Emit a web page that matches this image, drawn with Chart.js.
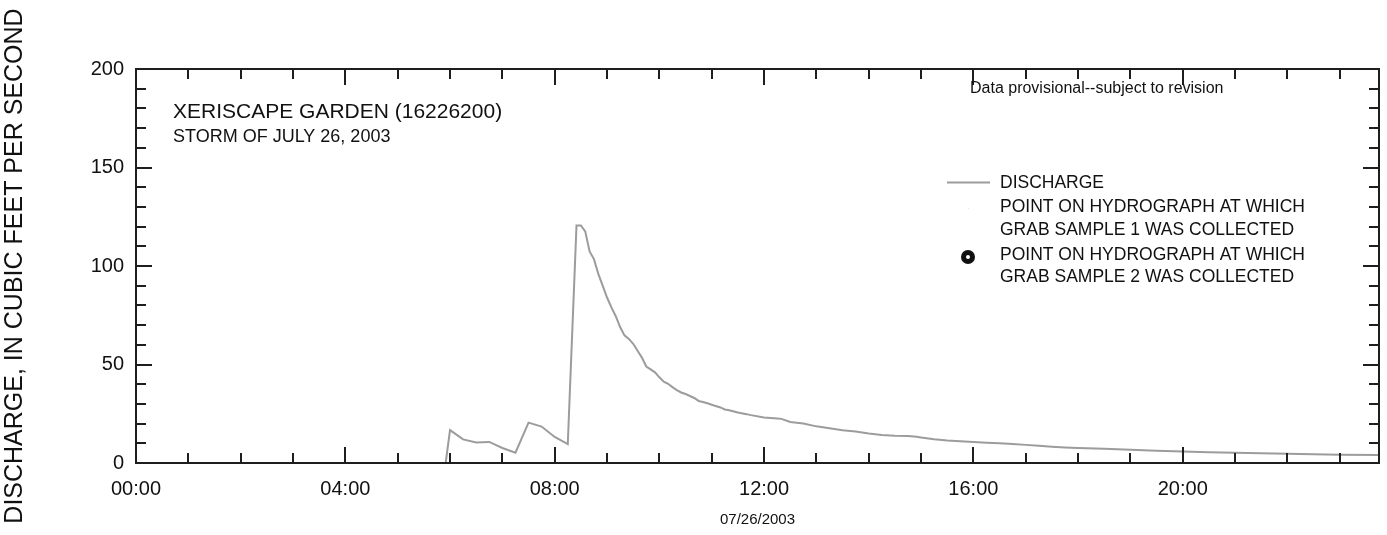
<!DOCTYPE html>
<html>
<head>
<meta charset="utf-8">
<script src="https://cdn.jsdelivr.net/npm/chart.js@4.4.1/dist/chart.umd.min.js"></script>
<style>
  html, body { margin: 0; padding: 0; background: #ffffff; }
  canvas { display: block; }
</style>
</head>
<body>
<canvas id="hydro" width="1387" height="535"></canvas>
<script>
// Discharge record, storm of July 26, 2003 (time of day, cubic feet per second)
const times = [
  "00:00", "05:55", "06:00", "06:15", "06:30", "06:45", "07:00", "07:15", "07:30", "07:45",
  "08:00", "08:15", "08:25", "08:30", "08:35", "08:40", "08:45", "08:50", "08:55", "09:00",
  "09:05", "09:10", "09:15", "09:20", "09:25", "09:30", "09:35", "09:40", "09:45", "09:50",
  "09:55", "10:00", "10:05", "10:10", "10:15", "10:20", "10:25", "10:30", "10:35", "10:40",
  "10:45", "10:50", "10:55", "11:00", "11:10", "11:15", "11:20", "11:30", "11:40", "11:45",
  "12:00", "12:15", "12:20", "12:30", "12:45", "13:00", "13:15", "13:30", "13:45", "14:00",
  "14:15", "14:30", "14:45", "14:55", "15:00", "15:15", "15:30", "15:45", "16:00", "16:15",
  "16:30", "16:45", "17:00", "17:15", "17:30", "17:45", "18:00", "18:30", "19:00", "19:30",
  "20:00", "20:30", "21:00", "21:30", "22:00", "22:30", "23:00", "23:45"
];
const discharge = [
  0, 0, 16.7, 12.0, 10.4, 10.7, 7.6, 5.2, 20.5, 18.5,
  13.2, 9.6, 120.6, 120.6, 117.6, 107.4, 103.5, 96.0, 90.0, 84.0,
  79.0, 74.5, 69.0, 64.8, 63.0, 60.5, 57.0, 53.5, 49.0, 47.5,
  46.0, 43.5, 41.3, 40.2, 38.5, 37.0, 35.8, 35.0, 34.0, 33.0,
  31.5, 31.0, 30.3, 29.6, 28.2, 27.2, 26.8, 25.6, 24.8, 24.3,
  23.1, 22.6, 22.4, 20.8, 20.1, 18.6, 17.6, 16.6, 16.0, 15.0,
  14.2, 13.8, 13.7, 13.3, 13.0, 12.0, 11.4, 11.0, 10.6, 10.3,
  10.0, 9.7, 9.2, 8.7, 8.3, 7.9, 7.6, 7.2, 6.7, 6.2,
  5.9, 5.5, 5.2, 4.9, 4.7, 4.4, 4.2, 4.0
];

// Grab samples taken on the hydrograph
const sample1Times = ["14:55"];
const sample1Values = [13.3];
const sample2Times = [];
const sample2Values = [];

// Axis ticks (hours of day, discharge)
const xMajorTicks = [0, 4, 8, 12, 16, 20];
const xMinorTicks = [1, 2, 3, 5, 6, 7, 9, 10, 11, 13, 14, 15, 17, 18, 19, 21, 22, 23];
const yMajorTicks = [0, 50, 100, 150, 200];
const yMinorTicks = [10, 20, 30, 40, 60, 70, 80, 90, 110, 120, 130, 140, 160, 170, 180, 190];

const titleLines = ["XERISCAPE GARDEN (16226200)", "STORM OF JULY 26, 2003"];
const noteText = "Data provisional--subject to revision";
const legendItems = [
  ["DISCHARGE"],
  ["POINT ON HYDROGRAPH AT WHICH", "GRAB SAMPLE 1 WAS COLLECTED"],
  ["POINT ON HYDROGRAPH AT WHICH", "GRAB SAMPLE 2 WAS COLLECTED"]
];

const FONT = '"Liberation Sans", Arial, Helvetica, sans-serif';
const LINE_GREY = '#9c9c9c';
const AXIS_INK = '#1e1e1e';

function toHours(t) {
  const [h, m] = t.split(':').map(Number);
  return h + m / 60;
}
function pad2(n) { return String(n).padStart(2, '0'); }

const dischargePoints = times.map((t, i) => ({ x: toHours(t), y: discharge[i] }));
const sample1Points = sample1Times.map((t, i) => ({ x: toHours(t), y: sample1Values[i] }));
const sample2Points = sample2Times.map((t, i) => ({ x: toHours(t), y: sample2Values[i] }));

// Box frame with inward tick marks on all four sides
const framePlugin = {
  id: 'frame',
  afterDatasetsDraw(chart) {
    const { ctx, chartArea: a, scales } = chart;
    const xs = scales.x, ys = scales.y;
    ctx.save();
    ctx.strokeStyle = AXIS_INK;
    ctx.lineWidth = 2;
    ctx.strokeRect(a.left, a.top, a.right - a.left, a.bottom - a.top);
    ctx.beginPath();
    const tickX = (v, len) => {
      const px = Math.round(xs.getPixelForValue(v));
      ctx.moveTo(px, a.bottom); ctx.lineTo(px, a.bottom - len);
      ctx.moveTo(px, a.top); ctx.lineTo(px, a.top + len);
    };
    const tickY = (v, len) => {
      const py = Math.round(ys.getPixelForValue(v));
      ctx.moveTo(a.left, py); ctx.lineTo(a.left + len, py);
      ctx.moveTo(a.right, py); ctx.lineTo(a.right - len, py);
    };
    xMajorTicks.forEach(v => tickX(v, 16));
    xMinorTicks.forEach(v => tickX(v, 10));
    yMajorTicks.forEach(v => tickY(v, 16));
    yMinorTicks.forEach(v => tickY(v, 10));
    ctx.stroke();
    ctx.restore();
  }
};

// Station title, provisional note and legend
const annotationPlugin = {
  id: 'annotations',
  afterDraw(chart) {
    const { ctx } = chart;
    ctx.save();
    ctx.fillStyle = '#111';
    ctx.textBaseline = 'alphabetic';
    ctx.textAlign = 'left';
    ctx.font = `21px ${FONT}`;
    ctx.fillText(titleLines[0], 173, 118);
    ctx.font = `18px ${FONT}`;
    ctx.fillText(titleLines[1], 173, 142);

    ctx.font = `16px ${FONT}`;
    ctx.fillText(noteText, 970, 93);

    // legend
    ctx.font = `17.5px ${FONT}`;
    ctx.strokeStyle = LINE_GREY;
    ctx.lineWidth = 2;
    ctx.beginPath();
    ctx.moveTo(947, 182.5); ctx.lineTo(990, 182.5);
    ctx.stroke();
    ctx.fillText(legendItems[0][0], 1000, 188);

    ctx.fillStyle = '#e6e6e6';
    ctx.fillRect(968, 208, 1, 1);
    ctx.fillStyle = '#111';
    ctx.fillText(legendItems[1][0], 1000, 212);
    ctx.fillText(legendItems[1][1], 1000, 235);

    ctx.beginPath();
    ctx.arc(968, 257, 7, 0, Math.PI * 2);
    ctx.fillStyle = '#111';
    ctx.fill();
    ctx.beginPath();
    ctx.arc(968, 257, 2, 0, Math.PI * 2);
    ctx.fillStyle = '#fff';
    ctx.fill();
    ctx.fillStyle = '#111';
    ctx.fillText(legendItems[2][0], 1000, 260);
    ctx.fillText(legendItems[2][1], 1000, 282);
    ctx.restore();
  }
};

new Chart(document.getElementById('hydro'), {
  type: 'line',
  data: {
    datasets: [
      {
        label: 'DISCHARGE',
        data: dischargePoints,
        borderColor: LINE_GREY,
        borderWidth: 2,
        pointRadius: 0,
        tension: 0,
        fill: false
      },
      {
        label: 'GRAB SAMPLE 1',
        data: sample1Points,
        showLine: false,
        pointRadius: 2,
        pointBackgroundColor: '#ffffff',
        pointBorderWidth: 0
      },
      {
        label: 'GRAB SAMPLE 2',
        data: sample2Points,
        showLine: false,
        pointRadius: 7,
        pointBackgroundColor: '#111111',
        pointBorderWidth: 0
      }
    ]
  },
  options: {
    responsive: false,
    animation: false,
    events: [],
    layout: { padding: { left: 0, right: 8, top: 69, bottom: 0 } },
    plugins: { legend: { display: false }, tooltip: { enabled: false } },
    scales: {
      x: {
        type: 'linear',
        min: 0,
        max: 23.75,
        afterFit(scale) { scale.height = 72; },
        grid: { display: false },
        border: { display: false },
        ticks: {
          stepSize: 4,
          includeBounds: false,
          autoSkip: false,
          maxRotation: 0,
          padding: 6,
          color: '#111',
          font: { family: FONT, size: 20 },
          callback: v => pad2(v) + ':00'
        },
        title: {
          display: true,
          text: '07/26/2003',
          color: '#111',
          font: { family: FONT, size: 15 },
          padding: { top: 0, bottom: 6 }
        }
      },
      y: {
        type: 'linear',
        min: 0,
        max: 200,
        afterFit(scale) { scale.width = 136; },
        grid: { display: false },
        border: { display: false },
        ticks: {
          stepSize: 50,
          padding: 4,
          color: '#111',
          font: { family: FONT, size: 20 }
        },
        title: {
          display: true,
          text: 'DISCHARGE, IN CUBIC FEET PER SECOND',
          color: '#111',
          font: { family: FONT, size: 25 },
          padding: { top: 0, bottom: 0 }
        }
      }
    }
  },
  plugins: [framePlugin, annotationPlugin]
});
</script>
</body>
</html>
